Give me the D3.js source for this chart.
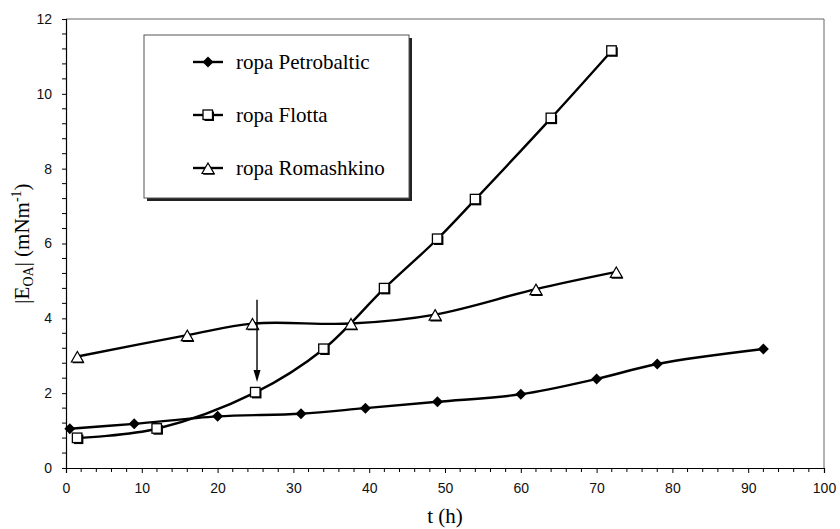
<!DOCTYPE html>
<html><head><meta charset="utf-8">
<script src="https://cdn.jsdelivr.net/npm/d3@7"></script>
<style>body{margin:0;background:#fff}svg{display:block}</style>
</head><body>
<svg id="chart" width="840" height="529"></svg>
<script>
// ---- data ----
const petroT = [0.5, 9, 20, 31, 39.5, 49, 60, 70, 78, 92];
const petroE = [1.05, 1.18, 1.38, 1.45, 1.6, 1.77, 1.97, 2.38, 2.78, 3.18];
const flottaT = [1.5, 12, 25, 34, 42, 49, 54, 64, 72];
const flottaE = [0.8, 1.05, 2.02, 3.18, 4.8, 6.12, 7.18, 9.35, 11.15];
const romT = [1.5, 16, 24.6, 37.6, 48.7, 62, 72.6];
const romE = [2.98, 3.55, 3.86, 3.86, 4.1, 4.78, 5.24];
const seriesNames = ["ropa Petrobaltic", "ropa Flotta", "ropa Romashkino"];
const xTicks = [0, 10, 20, 30, 40, 50, 60, 70, 80, 90, 100];
const yTicks = [0, 2, 4, 6, 8, 10, 12];
const arrowT = [25.2, 25.2];
const arrowE = [4.5, 2.3];

const svg = d3.select("#chart");
const x = d3.scaleLinear().domain([0, 100]).range([66, 824]);
const y = d3.scaleLinear().domain([0, 12]).range([468, 19]);

// frame (top/right)
svg.append("path").attr("d", `M${x(0)},${y(12)}H${x(100)}V${y(0)}`)
  .attr("fill", "none").attr("stroke", "#666").attr("stroke-width", 1);

// axes
const xAxis = d3.axisBottom(x).tickValues(xTicks).tickSize(5).tickPadding(10);
const gx = svg.append("g").attr("transform", `translate(0,${y(0)})`).call(xAxis);
const yAxis = d3.axisLeft(y).tickValues(yTicks).tickSize(4).tickPadding(10);
const gy = svg.append("g").attr("transform", `translate(${x(0)},0)`).call(yAxis);
[gx, gy].forEach(g => {
  g.select(".domain").attr("stroke", "#000").attr("stroke-width", 1.2);
  g.selectAll(".tick line").attr("stroke", "#000");
  g.selectAll("text").attr("font-family", "Liberation Sans, Arial, sans-serif")
    .attr("font-size", 14).attr("fill", "#111");
});
// minor ticks
const xMinor = d3.range(0, 101, 2).filter(v => v % 10 !== 0);
svg.append("g").selectAll("line").data(xMinor).join("line")
  .attr("x1", d => x(d)).attr("x2", d => x(d)).attr("y1", y(0)).attr("y2", y(0) + 4)
  .attr("stroke", "#000");
const yMinor = d3.range(0, 12.01, 0.4).filter(v => Math.abs(v / 2 - Math.round(v / 2)) > 0.01);
svg.append("g").selectAll("line").data(yMinor).join("line")
  .attr("x1", x(0) - 4).attr("x2", x(0)).attr("y1", d => y(d)).attr("y2", d => y(d))
  .attr("stroke", "#000");

// axis titles
svg.append("text").attr("x", (x(0) + x(100)) / 2).attr("y", 523)
  .attr("text-anchor", "middle").attr("font-family", "Liberation Serif, Times New Roman, serif")
  .attr("font-size", 21).text("t (h)");
const yt = svg.append("text").attr("transform", `translate(29,${(y(0) + y(12)) / 2}) rotate(-90)`)
  .attr("text-anchor", "middle").attr("font-family", "Liberation Serif, Times New Roman, serif")
  .attr("font-size", 21);
yt.append("tspan").text("|E");
yt.append("tspan").attr("font-size", 14).attr("dy", 4).text("OA");
yt.append("tspan").attr("dy", -4).text("| (mNm");
yt.append("tspan").attr("font-size", 14).attr("dy", -8).text("-1");
yt.append("tspan").attr("dy", 8).text(")");

// series
const series = [
  { t: petroT, e: petroE, m: "diamond" },
  { t: flottaT, e: flottaE, m: "square" },
  { t: romT, e: romE, m: "triangle" }
];
const line = d3.line().x(d => x(d[0])).y(d => y(d[1])).curve(d3.curveCatmullRom.alpha(0.5));

function marker(g, type) {
  if (type === "diamond") {
    g.append("path").attr("d", "M0,-5.5L5.5,0L0,5.5L-5.5,0Z").attr("fill", "#000");
  } else if (type === "square") {
    g.append("rect").attr("x", -3.5).attr("y", -3.5).attr("width", 9.5).attr("height", 9.5).attr("fill", "#000");
    g.append("rect").attr("x", -5).attr("y", -5).attr("width", 9.5).attr("height", 9.5)
      .attr("fill", "#fff").attr("stroke", "#000").attr("stroke-width", 1.3);
  } else {
    g.append("path").attr("d", "M0,-5L6,5.5L-6,5.5Z").attr("transform", "translate(1,1.3)").attr("fill", "#000");
    g.append("path").attr("d", "M0,-5L6,5.5L-6,5.5Z")
      .attr("fill", "#fff").attr("stroke", "#000").attr("stroke-width", 1.2);
  }
}

series.forEach(s => {
  const pts = s.t.map((t, i) => [t, s.e[i]]);
  svg.append("path").attr("d", line(pts)).attr("fill", "none")
    .attr("stroke", "#000").attr("stroke-width", 2.4);
  pts.forEach(p => {
    const g = svg.append("g").attr("transform", `translate(${x(p[0])},${y(p[1])})`);
    marker(g, s.m);
  });
});

// arrow
svg.append("line").attr("x1", x(arrowT[0])).attr("x2", x(arrowT[1]))
  .attr("y1", y(arrowE[0])).attr("y2", y(arrowE[1]) - 10)
  .attr("stroke", "#000").attr("stroke-width", 1.4);
svg.append("path")
  .attr("d", `M${x(arrowT[1])},${y(arrowE[1])}l-3.5,-12h7Z`).attr("fill", "#000");

// legend
const lg = svg.append("g");
lg.append("rect").attr("x", 147).attr("y", 38).attr("width", 265).attr("height", 163).attr("fill", "#222");
lg.append("rect").attr("x", 144).attr("y", 35).attr("width", 265).attr("height", 163)
  .attr("fill", "#fff").attr("stroke", "#555").attr("stroke-width", 1);
const rowsY = [62, 115, 168];
seriesNames.forEach((n, i) => {
  lg.append("line").attr("x1", 193).attr("x2", 223).attr("y1", rowsY[i]).attr("y2", rowsY[i])
    .attr("stroke", "#000").attr("stroke-width", 2.4);
  const g = lg.append("g").attr("transform", `translate(208,${rowsY[i]})`);
  marker(g, series[i].m);
  lg.append("text").attr("x", 236).attr("y", rowsY[i] + 7)
    .attr("font-family", "Liberation Serif, Times New Roman, serif").attr("font-size", 21).text(n);
});
</script>
</body></html>
